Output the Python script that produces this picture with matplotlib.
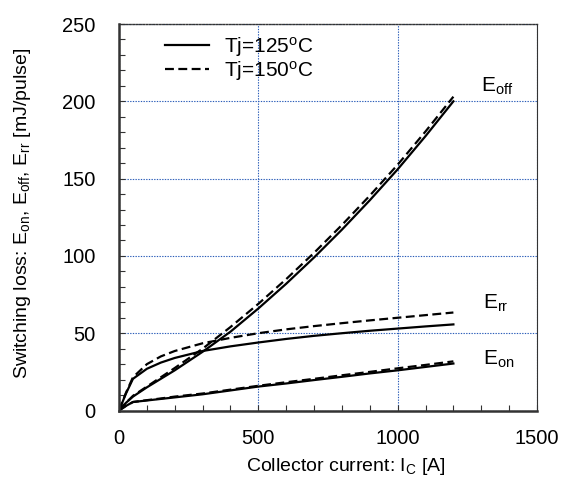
import matplotlib
matplotlib.use("Agg")
import matplotlib.pyplot as plt
from matplotlib.ticker import MultipleLocator

plt.rcParams['font.family'] = ['Liberation Sans', 'DejaVu Sans']
plt.rcParams['mathtext.fontset'] = 'custom'
plt.rcParams['mathtext.rm'] = 'Liberation Sans'
plt.rcParams['mathtext.it'] = 'Liberation Sans'

# Data (collector current in A, energy in mJ/pulse)
ic = [0, 25, 50, 100, 150, 200, 300, 400, 500, 600, 700, 800, 900, 1000, 1100, 1200]
eoff_125 = [0, 5, 9, 15, 20.5, 26, 38, 51, 66, 82, 99, 117, 136, 156, 177.5, 200]
eoff_150 = [0, 5, 9.5, 15.5, 21.5, 27.5, 40, 54, 69, 85, 102, 120, 139, 159, 180.5, 203]
err_125 = [0, 11, 20.5, 27, 31, 34, 38.5, 41.5, 44, 46.3, 48.3, 50, 51.6, 53, 54.4, 55.7]
err_150 = [0, 11.5, 21.5, 30, 35, 38.5, 43.5, 47, 50, 52.5, 54.6, 56.5, 58.3, 60, 61.7, 63.4]
eon_125 = [0, 3, 5.5, 6.5, 7.5, 8.5, 10.5, 13, 15.5, 17.5, 19.7, 21.8, 24, 26, 28.2, 30.4]
eon_150 = [0, 3, 5.5, 6.7, 7.8, 9, 11, 13.5, 16, 18.3, 20.5, 22.8, 25, 27.3, 29.5, 31.8]

fig = plt.figure(figsize=(5.63, 4.86), dpi=100)
ax = fig.add_axes([0.2114, 0.1553, 0.7424, 0.7953])

lw = 1.6
dash = (0, (4, 2))
ax.plot(ic, eoff_125, color='black', lw=lw, label='Tj=125$^{\\rm o}$C')
ax.plot(ic, eoff_150, color='black', lw=lw, linestyle=dash, label='Tj=150$^{\\rm o}$C')
ax.plot(ic, err_125, color='black', lw=lw)
ax.plot(ic, err_150, color='black', lw=lw, linestyle=dash)
ax.plot(ic, eon_125, color='black', lw=lw)
ax.plot(ic, eon_150, color='black', lw=lw, linestyle=dash)

ax.set_xlim(0, 1500)
ax.set_ylim(0, 250)
ax.xaxis.set_major_locator(MultipleLocator(500))
ax.yaxis.set_major_locator(MultipleLocator(50))
ax.xaxis.set_minor_locator(MultipleLocator(100))
ax.yaxis.set_minor_locator(MultipleLocator(10))
ax.tick_params(which='both', direction='in', length=4, width=0.8, color='#333333',
               labelsize=14.5, top=False, right=False)
ax.tick_params(axis='y', which='major', pad=17)
ax.tick_params(axis='x', which='major', pad=13)

ax.grid(True, which='major', color='#2a5cb8', linestyle=(0, (1.2, 1.2)), linewidth=0.8)
ax.set_axisbelow(True)

for s in ['left', 'bottom']:
    ax.spines[s].set_linewidth(1.8)
    ax.spines[s].set_color('#333333')
ax.spines['top'].set_linestyle((0, (1.2, 1.2)))
ax.spines['top'].set_color('#333333')
ax.spines['top'].set_linewidth(1.0)
ax.spines['right'].set_color('#333333')
ax.spines['right'].set_linewidth(0.8)

ax.set_xlabel('Collector current: I$_{\\rm C}$ [A]', fontsize=14, va='center')
ax.xaxis.set_label_coords(0.543, -0.146)
ax.set_ylabel('Switching loss: E$_{\\rm on}$, E$_{\\rm off}$, E$_{\\rm rr}$ [mJ/pulse]',
              fontsize=14, va='center')
ax.yaxis.set_label_coords(-0.232, 0.51)

ax.text(1300, 210, 'E$_{\\rm off}$', fontsize=15, va='center', ha='left')
ax.text(1305, 69, 'E$_{\\rm rr}$', fontsize=15, va='center', ha='left')
ax.text(1305, 33, 'E$_{\\rm on}$', fontsize=15, va='center', ha='left')

leg = ax.legend(loc='upper left', bbox_to_anchor=(0.07, 1.015), frameon=False,
                fontsize=15, handlelength=2.1, handletextpad=0.75, labelspacing=0.0,
                borderpad=0.3)

fig.savefig('out.png', dpi=100)
